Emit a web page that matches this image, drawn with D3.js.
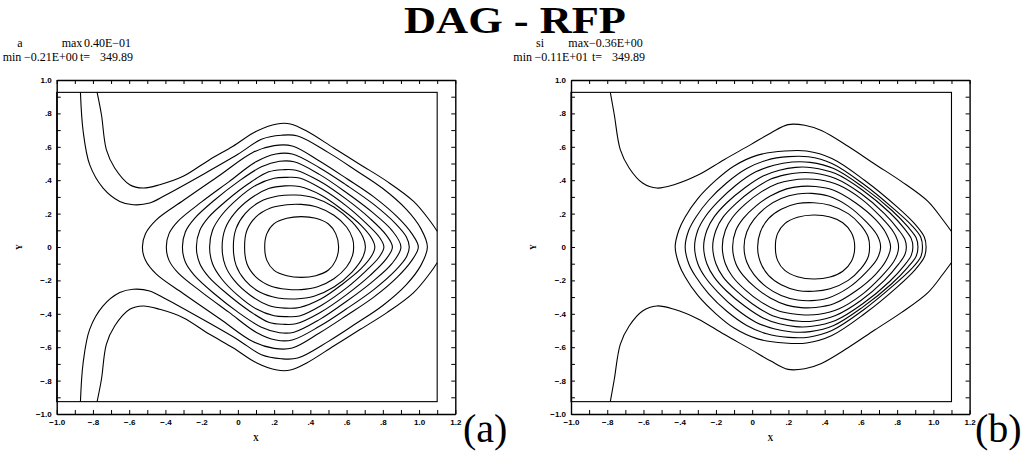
<!DOCTYPE html>
<html>
<head>
<meta charset="utf-8">
<script src="https://cdn.jsdelivr.net/npm/d3@7"></script>
<style>
  body { margin: 0; background: #fff; }
  svg { display: block; }
</style>
</head>
<body>
<svg id="chart" width="1023" height="452"></svg>
<script>
// tick values and labels (both panels share the same axes)
var xTicks = [-1.0, -0.8, -0.6, -0.4, -0.2, 0, 0.2, 0.4, 0.6, 0.8, 1.0, 1.2];
var xTickLabels = ["\u22121.0", "\u2212.8", "\u2212.6", "\u2212.4", "\u2212.2", "0", ".2", ".4", ".6", ".8", "1.0", "1.2"];
var xMinor = [-0.9, -0.7, -0.5, -0.3, -0.1, 0.1, 0.3, 0.5, 0.7, 0.9, 1.1];
var yTicks = [-1.0, -0.8, -0.6, -0.4, -0.2, 0, 0.2, 0.4, 0.6, 0.8, 1.0];
var yTickLabels = ["\u22121.0", "\u2212.8", "\u2212.6", "\u2212.4", "\u2212.2", "0", ".2", ".4", ".6", ".8", "1.0"];
var yMinor = [-0.9, -0.7, -0.5, -0.3, -0.1, 0.1, 0.3, 0.5, 0.7, 0.9];

// computational box
var boxX = [-1.0, 1.1];
var boxY = [-0.926, 0.926];

// headers: name, "max", max value, "min", min value, "t=", time
var aHeader = ["a", "max", "0.40E\u221201", "min", "\u22120.21E+00", "t=", "349.89"];
var bHeader = ["si", "max", "\u22120.36E+00", "min", "\u22120.11E+01", "t=", "349.89"];

// contour lines, upper half only (the field is symmetric in y)
// open curves start on the top wall
var aOpen = [
  [[-0.777,0.926],[-0.753,0.792],[-0.726,0.583],[-0.680,0.473],[-0.597,0.373],[-0.523,0.353],[-0.431,0.373],[-0.302,0.423],[-0.156,0.523],[-0.027,0.603],[0.102,0.693],[0.216,0.737],[0.29,0.737],[0.382,0.693],[0.529,0.593],[0.676,0.493],[0.823,0.393],[0.970,0.273],[1.062,0.154],[1.10,0.094]],
  [[-0.869,0.926],[-0.854,0.693],[-0.818,0.493],[-0.744,0.353],[-0.652,0.273],[-0.578,0.253],[-0.487,0.263],[-0.395,0.313],[-0.2,0.43],[0.0,0.555],[0.13,0.645],[0.24,0.669],[0.33,0.665],[0.5,0.565],[0.65,0.46],[0.8,0.35],[0.93,0.225],[1.01,0.11],[1.046,0]]
];
var aClosed = [
  [[-0.527,0],[-0.51,0.08],[-0.45,0.163],[-0.3,0.28],[-0.1,0.43],[0.08,0.565],[0.2,0.607],[0.3,0.605],[0.45,0.515],[0.6,0.41],[0.75,0.3],[0.88,0.18],[0.96,0.08],[0.996,0]],
  [[-0.395,0],[-0.38,0.08],[-0.33,0.155],[-0.2,0.27],[-0.05,0.39],[0.1,0.51],[0.21,0.557],[0.3,0.557],[0.45,0.475],[0.6,0.37],[0.75,0.255],[0.87,0.14],[0.93,0.06],[0.946,0]],
  [[-0.306,0],[-0.29,0.09],[-0.24,0.17],[-0.13,0.28],[0.0,0.39],[0.13,0.48],[0.23,0.513],[0.31,0.51],[0.45,0.435],[0.6,0.325],[0.74,0.21],[0.85,0.1],[0.9,0]],
  [[-0.229,0],[-0.21,0.1],[-0.16,0.18],[-0.06,0.28],[0.06,0.38],[0.17,0.45],[0.25,0.463],[0.32,0.46],[0.45,0.395],[0.6,0.285],[0.73,0.17],[0.82,0.07],[0.853,0]],
  [[-0.156,0],[-0.14,0.1],[-0.09,0.19],[0.0,0.29],[0.1,0.37],[0.2,0.412],[0.27,0.417],[0.34,0.413],[0.46,0.35],[0.6,0.245],[0.71,0.14],[0.78,0.06],[0.806,0]],
  [[-0.087,0],[-0.07,0.11],[-0.02,0.2],[0.07,0.29],[0.17,0.35],[0.26,0.366],[0.34,0.362],[0.46,0.31],[0.58,0.22],[0.68,0.13],[0.74,0.05],[0.756,0]],
  [[-0.025,0],[-0.01,0.11],[0.04,0.2],[0.12,0.27],[0.22,0.305],[0.32,0.311],[0.42,0.295],[0.53,0.24],[0.63,0.15],[0.69,0.06],[0.704,0]],
  [[0.037,0],[0.05,0.1],[0.1,0.18],[0.18,0.233],[0.27,0.253],[0.35,0.255],[0.44,0.238],[0.53,0.19],[0.6,0.12],[0.633,0.05],[0.639,0]],
  [[0.148,0],[0.16,0.08],[0.2,0.14],[0.27,0.172],[0.35,0.182],[0.43,0.172],[0.5,0.138],[0.54,0.08],[0.556,0]]
];

var bOpen = [
  [[-0.783,0.926],[-0.761,0.792],[-0.728,0.583],[-0.679,0.473],[-0.605,0.383],[-0.526,0.353],[-0.431,0.373],[-0.302,0.429],[-0.155,0.523],[-0.008,0.613],[0.103,0.683],[0.198,0.733],[0.29,0.729],[0.382,0.697],[0.529,0.603],[0.676,0.497],[0.823,0.393],[0.970,0.273],[1.052,0.163],[1.099,0.094]]
];
var bClosed = [
  [[-0.425,0],[-0.405,0.1],[-0.37,0.18],[-0.3,0.29],[-0.2,0.4],[-0.1,0.485],[0.03,0.55],[0.18,0.575],[0.3,0.575],[0.44,0.53],[0.62,0.4],[0.8,0.24],[0.9,0.135],[0.95,0.06],[0.96,0]],
  [[-0.37,0],[-0.35,0.1],[-0.31,0.18],[-0.24,0.28],[-0.14,0.385],[-0.03,0.47],[0.08,0.52],[0.2,0.541],[0.31,0.54],[0.44,0.5],[0.61,0.38],[0.78,0.23],[0.88,0.13],[0.93,0.06],[0.94,0]],
  [[-0.318,0],[-0.3,0.1],[-0.26,0.18],[-0.19,0.27],[-0.09,0.37],[0.02,0.45],[0.12,0.49],[0.22,0.509],[0.32,0.507],[0.45,0.47],[0.61,0.36],[0.77,0.22],[0.86,0.12],[0.905,0.055],[0.915,0]],
  [[-0.268,0],[-0.25,0.1],[-0.21,0.18],[-0.14,0.265],[-0.04,0.355],[0.06,0.425],[0.15,0.46],[0.24,0.477],[0.33,0.475],[0.46,0.44],[0.61,0.34],[0.76,0.205],[0.84,0.11],[0.878,0.05],[0.887,0]],
  [[-0.218,0],[-0.2,0.1],[-0.16,0.18],[-0.09,0.26],[0.0,0.34],[0.1,0.405],[0.18,0.432],[0.26,0.445],[0.34,0.443],[0.46,0.41],[0.6,0.32],[0.73,0.2],[0.81,0.1],[0.843,0.045],[0.851,0]],
  [[-0.165,0],[-0.148,0.1],[-0.11,0.175],[-0.04,0.255],[0.05,0.33],[0.14,0.38],[0.22,0.4],[0.29,0.407],[0.37,0.403],[0.48,0.37],[0.6,0.29],[0.71,0.18],[0.78,0.09],[0.802,0.04],[0.808,0]],
  [[-0.108,0],[-0.09,0.1],[-0.05,0.17],[0.02,0.245],[0.1,0.305],[0.19,0.348],[0.27,0.363],[0.35,0.362],[0.45,0.34],[0.57,0.265],[0.68,0.165],[0.74,0.08],[0.764,0]],
  [[-0.045,0],[-0.03,0.09],[0.01,0.165],[0.08,0.24],[0.16,0.29],[0.25,0.317],[0.33,0.321],[0.42,0.305],[0.53,0.245],[0.63,0.15],[0.69,0.07],[0.709,0]],
  [[0.03,0],[0.045,0.09],[0.09,0.17],[0.16,0.226],[0.25,0.26],[0.34,0.265],[0.43,0.25],[0.53,0.2],[0.6,0.13],[0.64,0.06],[0.648,0]],
  [[0.128,0],[0.14,0.08],[0.18,0.14],[0.25,0.178],[0.34,0.192],[0.43,0.18],[0.5,0.145],[0.548,0.085],[0.566,0]]
];

var svg = d3.select("#chart");
var serif = "'Liberation Serif', 'Times New Roman', serif";

// big title
svg.append("text")
  .attr("x", 515).attr("y", 33)
  .attr("text-anchor", "middle")
  .attr("font-family", serif)
  .attr("font-weight", "bold")
  .attr("font-size", 37)
  .attr("textLength", 222)
  .attr("lengthAdjust", "spacingAndGlyphs")
  .text("DAG - RFP");

function mirror(c) {
  return c.map(function(p) { return [p[0], -p[1]]; });
}

// hx: x of each header piece, in header order
function drawPanel(left, header, hx, openC, closedC, tag, tagX) {
  var x = d3.scaleLinear().domain([-1, 1.2]).range([left, left + 398.6]);
  var y = d3.scaleLinear().domain([-1, 1]).range([414, 80]);
  var g = svg.append("g");

  var line = d3.line()
    .x(function(d) { return x(d[0]); })
    .y(function(d) { return y(d[1]); })
    .curve(d3.curveCatmullRom.alpha(0.5));
  var ring = d3.line()
    .x(function(d) { return x(d[0]); })
    .y(function(d) { return y(d[1]); })
    .curve(d3.curveCatmullRomClosed.alpha(0.5));

  // inner box
  g.append("rect")
    .attr("x", x(boxX[0])).attr("y", y(boxY[1]))
    .attr("width", x(boxX[1]) - x(boxX[0]))
    .attr("height", y(boxY[0]) - y(boxY[1]))
    .attr("fill", "none").attr("stroke", "#000").attr("stroke-width", 1.1);

  var lines = g.append("g")
    .attr("fill", "none").attr("stroke", "#000").attr("stroke-width", 1.1);

  closedC.forEach(function(c) {
    var full = c.concat(mirror(c.slice(1, -1)).reverse());
    lines.append("path").attr("d", ring(full));
  });
  openC.forEach(function(c) {
    var last = c[c.length - 1];
    if (last[1] === 0) {
      // wraps round the right side, back to the bottom wall
      lines.append("path").attr("d", line(c.concat(mirror(c.slice(0, -1)).reverse())));
    } else {
      lines.append("path").attr("d", line(c));
      lines.append("path").attr("d", line(mirror(c)));
    }
  });

  // frame with inward ticks on all four sides
  var axes = [
    { ax: d3.axisBottom(x), t: "translate(0,414)", v: xTicks, m: xMinor, lab: xTickLabels },
    { ax: d3.axisTop(x), t: "translate(0,80)", v: xTicks, m: xMinor, lab: null },
    { ax: d3.axisLeft(y), t: "translate(" + left + ",0)", v: yTicks, m: yMinor, lab: yTickLabels },
    { ax: d3.axisRight(y), t: "translate(" + (left + 398.6) + ",0)", v: yTicks, m: yMinor, lab: null }
  ];
  axes.forEach(function(a) {
    var ga = g.append("g").attr("transform", a.t)
      .call(a.ax.tickValues(a.v).tickSize(-4).tickSizeOuter(0).tickPadding(5)
        .tickFormat(function(d, i) { return a.lab ? a.lab[i] : ""; }));
    ga.select(".domain").attr("stroke-width", 1.4);
    ga.selectAll("text")
      .attr("font-family", "'Liberation Sans', Arial, sans-serif")
      .attr("font-weight", "bold")
      .attr("font-size", 8);
    g.append("g").attr("transform", a.t)
      .call(a.ax.tickValues(a.m).tickSize(-4).tickFormat(""))
      .select(".domain").remove();
  });

  // axis names
  g.append("text")
    .attr("x", (x.range()[0] + x.range()[1]) / 2).attr("y", 441)
    .attr("text-anchor", "middle")
    .attr("font-family", serif).attr("font-weight", "bold").attr("font-size", 8)
    .text("X");
  g.append("text")
    .attr("transform", "translate(" + (left - 35) + "," + y(0) + ") rotate(-90)")
    .attr("text-anchor", "middle")
    .attr("font-family", serif).attr("font-weight", "bold").attr("font-size", 8)
    .text("Y");

  // header lines
  var h = g.append("g").attr("font-family", serif).attr("font-size", 12);
  header.forEach(function(s, i) {
    h.append("text")
      .attr("x", hx[i]).attr("y", i < 3 ? 47 : 61)
      .text(s);
  });

  // panel tag
  g.append("text")
    .attr("x", tagX).attr("y", 442)
    .attr("font-family", serif).attr("font-size", 40)
    .text(tag);
}

drawPanel(56.7, aHeader, [17.3, 61.7, 84, 2.7, 24, 80, 100], aOpen, aClosed, "(a)", 463);
drawPanel(571, bHeader, [536, 568.3, 589, 513.3, 534.6, 592, 612], bOpen, bClosed, "(b)", 975);
</script>
</body>
</html>
